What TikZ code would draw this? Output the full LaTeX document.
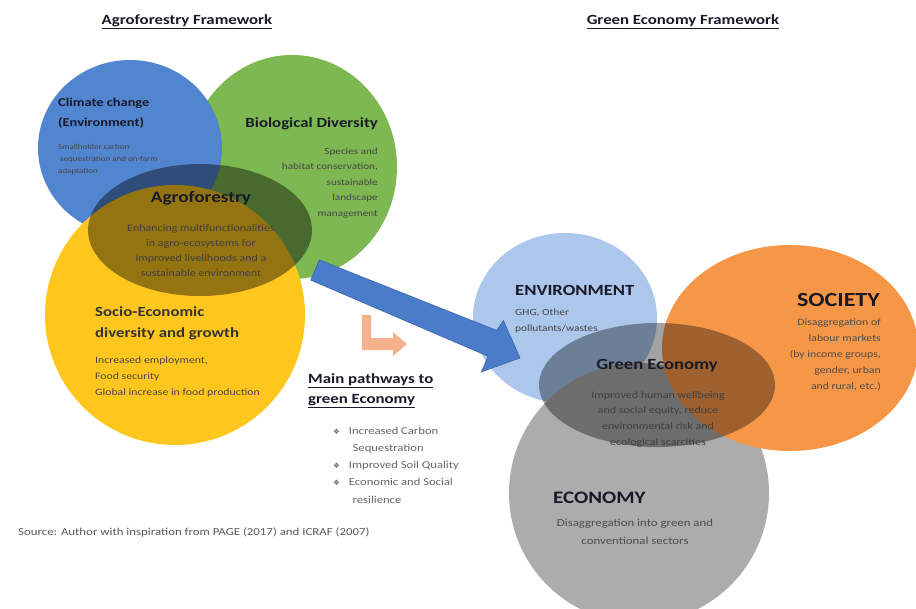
\documentclass[tikz,border=0pt]{standalone}
\usepackage{fontspec}
\setmainfont[FakeStretch=1.2]{Carlito}
\newfontfamily\symfont{DejaVu Sans}
\definecolor{blueC}{RGB}{82,133,207}
\definecolor{greenC}{RGB}{126,184,82}
\definecolor{yellowC}{RGB}{255,199,30}
\definecolor{envC}{RGB}{172,199,235}
\definecolor{orangeC}{RGB}{246,151,72}
\definecolor{grayC}{RGB}{172,172,172}
\definecolor{arrowC}{RGB}{74,124,202}
\definecolor{arrowD}{RGB}{58,100,170}
\definecolor{pinkC}{RGB}{244,178,140}
\definecolor{headC}{RGB}{25,25,40}
\definecolor{smallC}{RGB}{70,70,70}
\tikzset{
  head/.style={font=\fontsize{14}{16}\selectfont\bfseries, text=headC, inner sep=0pt},
  small/.style={font=\fontsize{9}{12.5}\selectfont, text=smallC, inner sep=0pt},
  title/.style={font=\fontsize{14}{16}\selectfont\bfseries, text=headC, inner sep=0pt},
  overlay/.style={fill=black, fill opacity=0.42},
}
\newcommand{\bul}{{\symfont\fontsize{7.5}{8}\selectfont ❖}}
\begin{document}
\begin{tikzpicture}[x=1pt,y=-1pt]
\useasboundingbox (0,0) rectangle (916,608);
\fill[white] (0,0) rectangle (916,608);

% titles
\node[title] (t1) at (187,22) {\underline{Agroforestry Framework}};
\node[title] (t2) at (683,22) {\underline{Green Economy Framework}};

% left circles
\fill[greenC] (292,167) ellipse [x radius=105, y radius=112];
\fill[blueC] (130,148) ellipse [x radius=92, y radius=88];
\fill[yellowC] (175,315) circle (130);
\fill[overlay] (200,230) ellipse [x radius=112, y radius=66];

% right circles
\fill[envC] (565,318) ellipse [x radius=92, y radius=85];
\fill[grayC] (639,493) circle (130);
\fill[orangeC] (790,348) ellipse [x radius=128, y radius=103];
\fill[overlay, fill opacity=0.36] (657,385) ellipse [x radius=118, y radius=62];

% big blue arrow
\coordinate (aS) at (315,270);
\coordinate (aE) at (520,358);
\filldraw[fill=arrowC, draw=arrowD, line width=0.6pt]
  (310.7,280.1) -- (319.3,259.9) -- (496.7,330.4) -- (503.4,320.5) -- (aE)
  -- (481.4,371.9) -- (488.1,356.3) -- cycle;

% pink L arrow
\fill[pinkC] (362,315) -- (371,315) -- (371,338) -- (393,338) -- (393,332)
  -- (407,344) -- (393,356) -- (393,350) -- (362,350) -- cycle;

% Climate change
\node[head, anchor=west, align=left, font=\fontsize{12}{20}\selectfont\bfseries] (cc) at (58,113) {Climate change\\(Environment)};
\node[small, anchor=west, align=left, font=\fontsize{7.5}{12}\selectfont] (ccs) at (58,159) {Smallholder carbon\\\ sequestration and on-farm\\adaptation};

% Biological diversity
\node[head, anchor=east] (bd) at (378,124) {Biological Diversity};
\node[small, anchor=east, align=right, font=\fontsize{9.3}{15.5}\selectfont] (bds) at (378,183) {Species and\\habitat conservation,\\sustainable\\landscape\\management};

% Agroforestry
\node[head, font=\fontsize{16}{18}\selectfont\bfseries] (af) at (201,198) {Agroforestry};
\node[small, align=center, font=\fontsize{10}{15}\selectfont, text=black!75] (afs) at (201,251) {Enhancing multifunctionalities\\in agro-ecosystems for\\improved livelihoods and a\\sustainable environment};

% Socio-economic
\node[head, anchor=west, align=left, font=\fontsize{14}{21}\selectfont\bfseries, text=black!80] (se) at (95,323) {Socio-Economic\\diversity and growth};
\node[small, anchor=west, align=left, font=\fontsize{9.8}{16}\selectfont] (ses) at (95,377) {Increased employment,\\Food security\\Global increase in food production};

% Main pathways
\node[head, anchor=west, align=left, font=\fontsize{14}{20}\selectfont\bfseries] (mp) at (308,391) {\underline{Main pathways to}\\\underline{green Economy}};
\node[small, anchor=west, align=left, font=\fontsize{10.5}{17.2}\selectfont, text=black!60] (mps) at (333,465)
  {\bul\hspace{9pt}Increased Carbon\\\hspace{19.5pt}Sequestration\\\bul\hspace{9pt}Improved Soil Quality\\\bul\hspace{9pt}Economic and Social\\\hspace{19.5pt}resilience};

% Source
\node[small, anchor=west, font=\fontsize{10.7}{12}\selectfont, text=black!65] (src) at (18,532) {Source: Author with inspiration from PAGE (2017) and ICRAF (2007)};

% Environment
\node[head, anchor=west, font=\fontsize{15.5}{17}\selectfont\bfseries] (env) at (515,290) {ENVIRONMENT};
\node[small, anchor=west, align=left, font=\fontsize{9.5}{16.5}\selectfont] (envs) at (515,321) {GHG, Other\\pollutants/wastes};

% Society
\node[head, anchor=east, font=\fontsize{20}{22}\selectfont\bfseries] (soc) at (880,300) {SOCIETY};
\node[small, anchor=east, align=right, font=\fontsize{9.8}{16}\selectfont, text=black!70] (socs) at (881,355) {Disaggregation of\\labour markets\\(by income groups,\\gender, urban\\and rural, etc.)};

% Green Economy
\node[head, font=\fontsize{15.5}{17}\selectfont\bfseries] (ge) at (657,366) {Green Economy};
\node[small, align=center, font=\fontsize{10}{15.7}\selectfont, text=black!75] (ges) at (658,419) {Improved human wellbeing\\and social equity, reduce\\environmental risk and\\ecological scarcities};

% Economy
\node[head, anchor=west, font=\fontsize{17.5}{19}\selectfont\bfseries] (eco) at (553,498) {ECONOMY};
\node[small, align=center, font=\fontsize{10.7}{18}\selectfont, text=black!70] (ecos) at (635,532) {Disaggregation into green and\\conventional sectors};

\end{tikzpicture}
\end{document}
